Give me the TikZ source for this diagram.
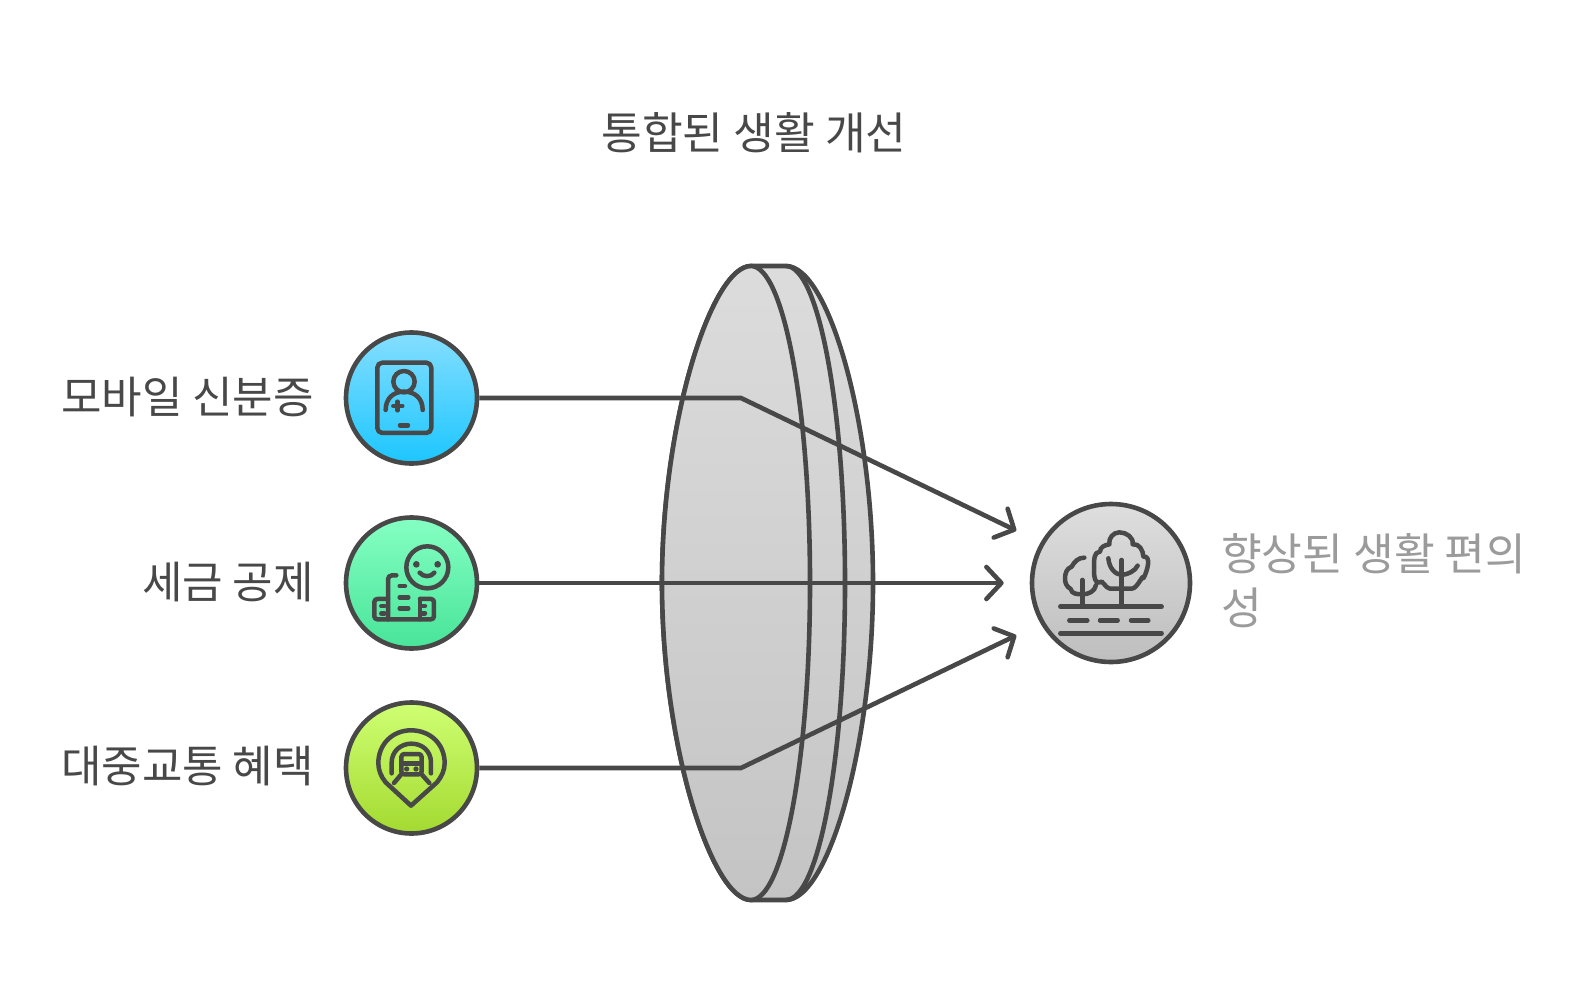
\documentclass[tikz,border=0pt]{standalone}
\usepackage{fontspec}
\newfontfamily\kofont{Noto Sans CJK KR}
\usetikzlibrary{arrows.meta}

\begin{document}
\begin{tikzpicture}[x=1pt,y=-1pt]

% Colors
\definecolor{inkdark}{RGB}{72,72,72}
\definecolor{inkgray}{RGB}{155,155,155}
\definecolor{lenstop}{RGB}{220,220,220}
\definecolor{lensbot}{RGB}{196,196,196}
\definecolor{Idtop}{RGB}{133,222,255}
\definecolor{Idbot}{RGB}{28,198,255}
\definecolor{Taxtop}{RGB}{133,255,195}
\definecolor{Taxbot}{RGB}{72,228,153}
\definecolor{Bustop}{RGB}{207,255,115}
\definecolor{Busbot}{RGB}{163,218,48}
\definecolor{Goaltop}{RGB}{222,222,222}
\definecolor{Goalbot}{RGB}{190,190,190}

% Styles
\tikzset{
  iconnode/.style={
    circle,
    draw=inkdark,
    line width=4.6pt,
    minimum size=131pt,
    inner sep=0pt
  },
  labeltext/.style={
    text=inkdark,
    inner sep=0pt,
    font=\kofont\fontsize{44.3}{54}\selectfont
  },
  sidetext/.style={
    labeltext,
    anchor=east,
    font=\kofont\fontsize{44}{54}\selectfont
  },
  flow/.style={
    -{Straight Barb[round,length=15pt,width=32pt,line width=4.6pt]},
    line width=4.6pt,
    draw=inkdark,
    shorten >=27pt
  },
  lensline/.style={
    draw=inkdark,
    line width=4.6pt,
    line join=round
  },
  iconline/.style={
    draw=inkdark,
    line width=4.5pt,
    line cap=round,
    line join=round
  }
}

\useasboundingbox (0,0) rectangle (1589,1008);

% Lens
\shadedraw[lensline,top color=lenstop,bottom color=lensbot]
  (751,266) -- (786,266)
  .. controls (828,266) and (873,420) .. (873,583)
  .. controls (873,746) and (828,900) .. (786,900)
  -- (751,900)
  .. controls (712,900) and (662,746) .. (662,583)
  .. controls (662,420) and (712,266) .. (751,266) -- cycle;
\shadedraw[lensline,top color=lenstop,bottom color=lensbot]
  (751,266)
  .. controls (784,266) and (810,410) .. (810,583)
  .. controls (810,756) and (784,900) .. (751,900)
  .. controls (712,900) and (662,746) .. (662,583)
  .. controls (662,420) and (712,266) .. (751,266) -- cycle;
\draw[lensline]
  (786,266)
  .. controls (819,266) and (845,410) .. (845,583)
  .. controls (845,756) and (819,900) .. (786,900);

% Circles
\node[iconnode,top color=Idtop,bottom color=Idbot] (idcard) at (411.5,398) {};
\node[iconnode,top color=Taxtop,bottom color=Taxbot] (taxcut) at (411.5,583) {};
\node[iconnode,top color=Bustop,bottom color=Busbot] (transit) at (411.5,768) {};
\node[iconnode,minimum size=158pt,top color=Goaltop,bottom color=Goalbot] (goal) at (1111,583) {};

% Bends of the connectors
\coordinate (bendA) at (741,398);
\coordinate (bendC) at (741,768);

% Connectors
\draw[flow] (idcard.east) -- (bendA) -- (goal.150);
\draw[flow,shorten >=26pt] (taxcut) -- (goal);
\draw[flow] (transit.east) -- (bendC) -- (goal.210);

% Labels
\node[labeltext] (title) at (754,133) {통합된 생활 개선};
\node[sidetext] (idlabel) at (314,397) {모바일 신분증};
\node[sidetext] (taxlabel) at (314,582) {세금 공제};
\node[sidetext] (translabel) at (314,766) {대중교통 혜택};
\node[labeltext,anchor=west,align=left,text=inkgray] (goallabel) at (1221,581)
  {향상된 생활 편의\\성};

% Icon: id card
\begin{scope}[shift={(335,320)},x=.3333pt,y=-.3333pt]
  \draw[iconline,rounded corners=5pt] (127,128) rectangle (289,339);
  \draw[iconline] (207,185) circle[radius=32];
  \draw[iconline] (152,270) .. controls (152,235) and (175,215) .. (207,215)
    .. controls (240,215) and (263,235) .. (263,270);
  \draw[iconline] (175,258) -- (202,258) (188,245) -- (188,271);
  \draw[iconline] (195,316) -- (219,316);
\end{scope}

% Icon: buildings and face
\begin{scope}[shift={(335,510)},x=.3333pt,y=-.3333pt]
  \draw[iconline] (277,172) circle[radius=63];
  \fill[inkdark] (244,163) circle[radius=10] (308,163) circle[radius=10];
  \draw[iconline] (254,188) .. controls (265,202) and (288,202) .. (298,188);
  \draw[iconline,rounded corners=4pt] (184,196) -- (159,196) -- (159,328);
  \draw[iconline,rounded corners=3pt] (159,267) -- (118,267) -- (118,328) -- (297,328) -- (297,267) -- (255,267);
  \draw[iconline] (255,267) -- (255,328);
  \draw[iconline] (194,228) -- (210,228) (194,262) -- (220,262) (194,295) -- (220,295);
  \draw[iconline] (139,288) -- (148,288) (139,310) -- (148,310);
  \draw[iconline] (258,288) -- (270,288) (258,310) -- (270,310);
\end{scope}

% Icon: map pin with train
\begin{scope}[shift={(335,695)},x=.3333pt,y=-.3333pt]
  \draw[iconline] (228,332) -- (152,262)
    .. controls (138,245) and (130,225) .. (130,205)
    .. controls (130,147) and (173,106) .. (228,106)
    .. controls (286,106) and (329,147) .. (329,205)
    .. controls (329,225) and (320,245) .. (306,262) -- cycle;
  \draw[iconline] (170,235) -- (170,203)
    .. controls (170,170) and (196,146) .. (229,146)
    .. controls (264,146) and (288,170) .. (288,203) -- (288,235);
  \draw[iconline,rounded corners=3pt] (199,238) -- (199,177) -- (260,177) -- (260,238) -- cycle;
  \draw[iconline] (199,205) -- (260,205);
  \fill[inkdark] (215,222) circle[radius=8] (243,222) circle[radius=8];
  \draw[iconline] (199,238) -- (177,264) (260,238) -- (283,264);
\end{scope}

% Icon: trees and road
\begin{scope}[shift={(1020,495)},x=.3333pt,y=-.3333pt]
  \draw[iconline] (121,335) -- (425,335) (121,415) -- (425,415);
  \draw[iconline] (148,376) -- (202,376) (240,376) -- (293,376) (333,376) -- (385,376);
  % big tree
  \draw[iconline] (305,335) -- (305,195);
  \draw[iconline] (265,190) .. controls (268,220) and (285,238) .. (305,240)
    .. controls (325,238) and (345,228) .. (353,212);
  \draw[iconline] (268,148) to[out=100,in=180] (298,112) to[out=0,in=80] (338,148)
    to[out=10,in=90] (370,185) to[out=10,in=60] (370,250)
    to[out=90,in=0] (335,281) to[out=180,in=0] (270,281)
    to[out=180,in=70] (240,262) to[out=190,in=270] (222,215)
    to[out=90,in=180] (240,170) to[out=90,in=190] (268,148);
  % small tree
  \draw[iconline] (187,335) -- (187,255);
  \draw[iconline] (193,188) to[out=180,in=60] (155,215) to[out=200,in=90] (135,250)
    to[out=270,in=150] (152,282) to[out=280,in=180] (187,298)
    to[out=0,in=260] (228,270);
\end{scope}

\end{tikzpicture}
\end{document}
